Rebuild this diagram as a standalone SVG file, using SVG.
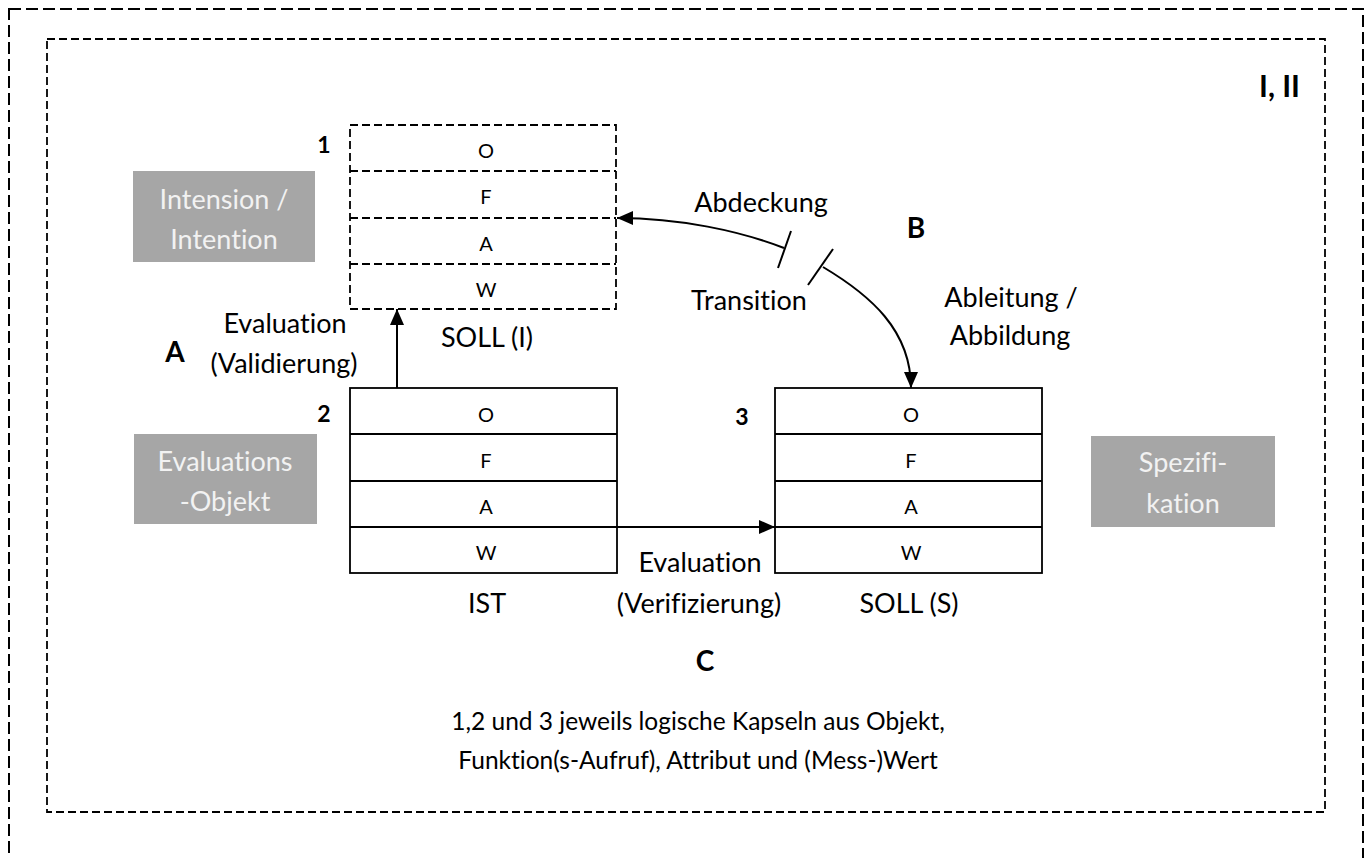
<svg xmlns="http://www.w3.org/2000/svg" width="1371" height="858" viewBox="0 0 1371 858">
<style>
  text { font-variant-ligatures: none; font-feature-settings: "liga" 0, "clig" 0; }
  .frame-outer { fill: none; stroke: #000; stroke-width: 2; stroke-dasharray: 12 5; }
  .frame-inner { fill: none; stroke: #000; stroke-width: 1.8; stroke-dasharray: 8 4; }
  .box { fill: #fff; stroke: #000; stroke-width: 1.8; }
  .box-dash { fill: none; stroke: #000; stroke-width: 1.8; stroke-dasharray: 8 4; }
  .row { stroke: #000; stroke-width: 1.8; }
  .row-dash { stroke: #000; stroke-width: 1.8; stroke-dasharray: 8 4; }
  .gray { fill: #a6a6a6; }
  .gtxt { font-family: Lato, "Liberation Sans", sans-serif; font-size: 27px; fill: #f2f2f2; text-anchor: middle; }
  .cell { font-family: Lato, "Liberation Sans", sans-serif; font-size: 20px; fill: #000; text-anchor: middle; }
  .lbl { font-family: Lato, "Liberation Sans", sans-serif; font-size: 27px; fill: #000; text-anchor: middle; }
  .cap { font-family: Lato, "Liberation Sans", sans-serif; font-size: 24.5px; fill: #000; text-anchor: middle; }
  .num { font-family: Lato, "Liberation Sans", sans-serif; font-size: 23px; font-weight: bold; fill: #000; text-anchor: middle; }
  .big { font-family: Lato, "Liberation Sans", sans-serif; font-size: 28px; font-weight: bold; fill: #000; text-anchor: middle; }
  .conn { fill: none; stroke: #000; stroke-width: 2; }
</style>
<defs>
  <marker id="ah" viewBox="0 0 16 14" refX="16" refY="7" markerWidth="16" markerHeight="14" markerUnits="userSpaceOnUse" orient="auto">
    <path d="M0,0 L16,7 L0,14 z" fill="#000"/>
  </marker>
</defs>
<rect width="1371" height="858" fill="#fff"/>
<rect id="frame-outer" class="frame-outer" x="9" y="9" width="1354" height="870"/>
<rect id="frame-inner" class="frame-inner" x="47" y="39" width="1278" height="773"/>
<text id="label-I-II" class="big" x="1300" y="97" style="text-anchor:end;font-size:30px">I, II</text>

<g id="intension">
  <rect class="gray" x="133" y="171" width="182" height="91"/>
  <text class="gtxt" x="224" y="209">Intension /</text>
  <text class="gtxt" x="224" y="249">Intention</text>
</g>
<g id="evaluationsobjekt">
  <rect class="gray" x="134" y="434" width="183" height="90"/>
  <text class="gtxt" x="225" y="471">Evaluations</text>
  <text class="gtxt" x="225" y="511">-Objekt</text>
</g>
<g id="spezifikation">
  <rect class="gray" x="1091" y="436" width="184" height="91"/>
  <text class="gtxt" x="1183" y="472">Spezifi-</text>
  <text class="gtxt" x="1183" y="513">kation</text>
</g>

<g id="soll-i">
  <rect class="box-dash" x="350" y="125" width="266" height="184"/>
  <line class="row-dash" x1="350" y1="171" x2="616" y2="171"/>
  <line class="row-dash" x1="350" y1="218" x2="616" y2="218"/>
  <line class="row-dash" x1="350" y1="264" x2="616" y2="264"/>
  <text class="cell" x="486" y="158">O</text>
  <text class="cell" x="486" y="204">F</text>
  <text class="cell" x="486" y="251">A</text>
  <text class="cell" x="486" y="297">W</text>
  <text class="num" x="324" y="153">1</text>
  <text class="lbl" x="487" y="347">SOLL (I)</text>
</g>

<g id="ist">
  <rect class="box" x="350" y="388" width="267" height="185"/>
  <line class="row" x1="350" y1="434" x2="617" y2="434"/>
  <line class="row" x1="350" y1="481" x2="617" y2="481"/>
  <line class="row" x1="350" y1="527" x2="617" y2="527"/>
  <text class="cell" x="486" y="422">O</text>
  <text class="cell" x="486" y="468">F</text>
  <text class="cell" x="486" y="514">A</text>
  <text class="cell" x="486" y="560">W</text>
  <text class="num" x="324" y="422">2</text>
  <text class="lbl" x="487" y="613">IST</text>
</g>

<g id="soll-s">
  <rect class="box" x="775" y="388" width="267" height="185"/>
  <line class="row" x1="775" y1="434" x2="1042" y2="434"/>
  <line class="row" x1="775" y1="481" x2="1042" y2="481"/>
  <line class="row" x1="775" y1="527" x2="1042" y2="527"/>
  <text class="cell" x="911" y="422">O</text>
  <text class="cell" x="911" y="468">F</text>
  <text class="cell" x="911" y="514">A</text>
  <text class="cell" x="911" y="560">W</text>
  <text class="num" x="742" y="425">3</text>
  <text class="lbl" x="909" y="613">SOLL (S)</text>
</g>

<g id="connectors">
  <line class="conn" x1="397" y1="388" x2="397" y2="309" marker-end="url(#ah)"/>
  <line class="conn" x1="617" y1="527" x2="775" y2="527" marker-end="url(#ah)"/>
  <path class="conn" d="M784,248 C740,231 680,218 617,218" marker-end="url(#ah)"/>
  <line class="conn" x1="778" y1="268" x2="791" y2="231"/>
  <line class="conn" x1="808" y1="285" x2="833" y2="249"/>
  <path class="conn" d="M823,267 C870,295 911,330 911,388" marker-end="url(#ah)"/>
</g>

<g id="labels">
  <text class="big" x="175" y="362">A</text>
  <text class="lbl" x="285" y="333">Evaluation</text>
  <text class="lbl" x="284" y="373">(Validierung)</text>
  <text class="lbl" x="761" y="212">Abdeckung</text>
  <text class="lbl" x="749" y="310">Transition</text>
  <text class="big" x="916" y="238">B</text>
  <text class="lbl" x="1011" y="307">Ableitung /</text>
  <text class="lbl" x="1010" y="345">Abbildung</text>
  <text class="lbl" x="700" y="572">Evaluation</text>
  <text class="lbl" x="699" y="613">(Verifizierung)</text>
  <text class="big" x="705" y="671">C</text>
  <text class="cap" x="698" y="730">1,2 und 3 jeweils logische Kapseln aus Objekt,</text>
  <text class="cap" x="698" y="769">Funktion(s-Aufruf), Attribut und (Mess-)Wert</text>
</g>
</svg>
